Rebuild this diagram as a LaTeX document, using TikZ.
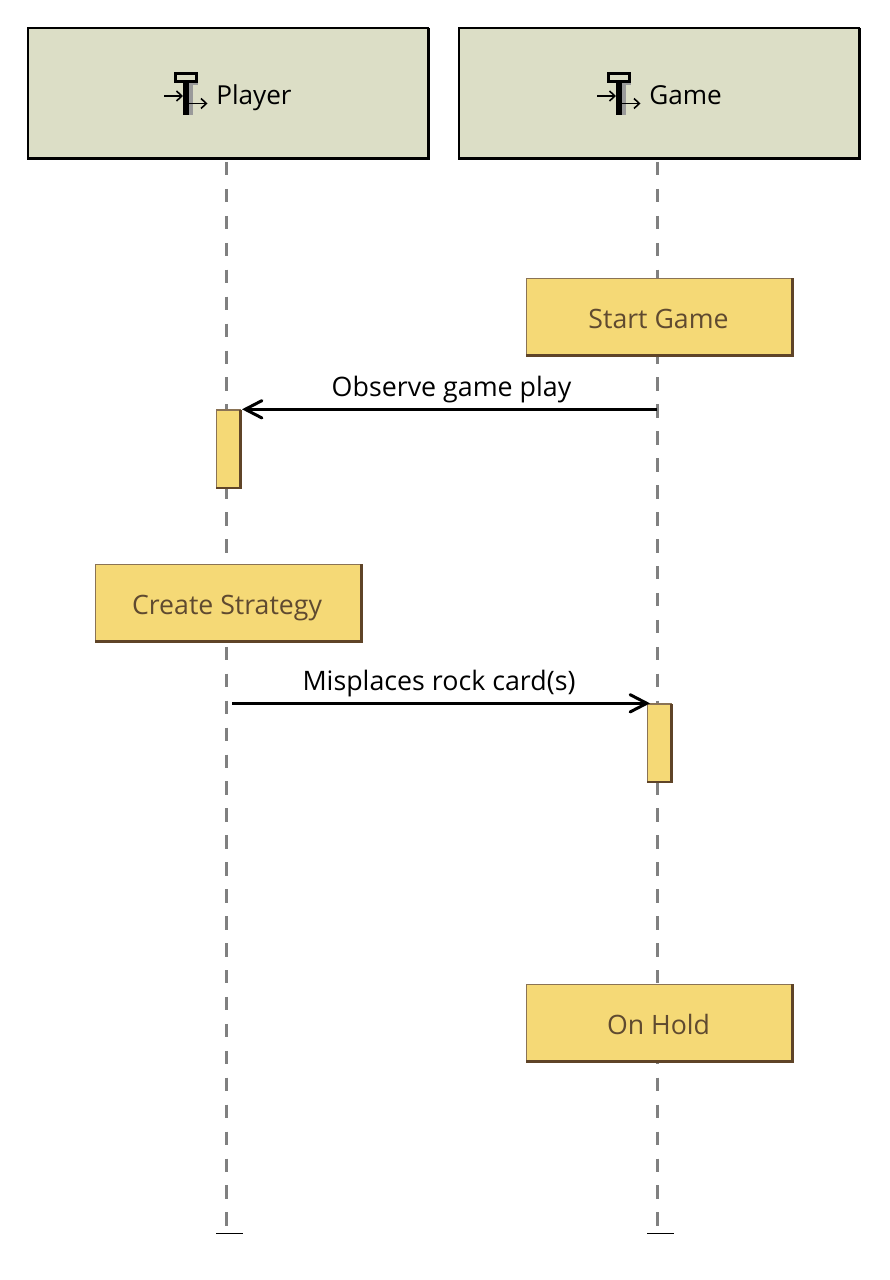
\documentclass[tikz,border=0pt]{standalone}
\usepackage{fontspec}
\setmainfont{Open Sans}
\usetikzlibrary{arrows.meta}
\definecolor{headfill}{HTML}{DCDEC6}
\definecolor{boxfill}{HTML}{F5D976}
\definecolor{boxedge}{HTML}{8A7355}
\definecolor{boxshade}{HTML}{5F4428}
\definecolor{boxtext}{HTML}{5F4A30}
\definecolor{lifegrey}{HTML}{808080}
\definecolor{iconshade}{HTML}{9A9A9A}
\newlength{\pxu}
\setlength{\pxu}{0.75pt}
\tikzset{
  x=0.75pt,y=-0.75pt,
  headbox/.style={draw=black,line width=0.95pt,fill=headfill,rectangle,outer sep=0pt,minimum width=400.5\pxu,minimum height=131\pxu,inner sep=0pt,anchor=north west},
  statebox/.style={draw=boxedge,line width=0.8pt,fill=boxfill,rectangle,outer sep=0pt,minimum width=266.2\pxu,minimum height=77.3\pxu,inner sep=0pt,anchor=north west},
  statetext/.style={text=boxtext,font=\fontsize{20}{24}\selectfont,inner sep=0pt,anchor=base},
  actbox/.style={draw=boxedge,line width=0.8pt,fill=boxfill,rectangle,outer sep=0pt,minimum width=24.3\pxu,minimum height=77.8\pxu,inner sep=0pt,anchor=north west},
  lifeline/.style={draw=lifegrey,line width=2.25pt,dash pattern=on 10.1pt off 10.1pt},
  msg/.style={draw=black,line width=2.25pt,-{Straight Barb[length=12.5pt,width=13pt,line width=2.25pt,line cap=round]}},
  msgtext/.style={font=\fontsize{20.1}{24}\selectfont,text=black,inner sep=0pt,anchor=base},
  headtext/.style={font=\fontsize{19.6}{24}\selectfont,text=black,inner sep=0pt,anchor=base west},
  headshade/.style={draw=black,line width=2.25pt,line join=miter},
  stateshade/.style={draw=boxshade,line width=1.9pt,line join=miter},
  endbar/.style={draw=black,line width=1.4pt},
  iconline/.style={draw=black,line width=1.3pt}
}
\newcommand{\lifeicon}[2]{%
  \begin{scope}[shift={(#1,#2)}]
    \fill[iconshade] (189,82) rectangle (198,85.5);
    \fill[iconshade] (189,85) rectangle (193,115);
    \fill[black] (183.3,82) rectangle (189,115.5);
    \draw[black,line width=1.6pt,fill=headfill] (175.5,73.5) rectangle (196.5,81.5);
    \draw[iconline,-{Straight Barb[length=4pt,width=7.5pt,line width=1.2pt]}] (164,96) -- (183,96);
    \draw[iconline,-{Straight Barb[length=4pt,width=7.5pt,line width=1.2pt]}] (189,103.5) -- (207.5,103.5);
  \end{scope}}
\begin{document}
\begin{tikzpicture}
\useasboundingbox (0,0) rectangle (889,1280);
\fill[white] (0,0) rectangle (889,1280);

% lifelines
\coordinate (ptop) at (226.5,162);
\coordinate (pend) at (226.5,1228);
\coordinate (gtop) at (657.5,162);
\coordinate (gend) at (657.5,1228);
\draw[lifeline] (ptop) -- (pend);
\draw[lifeline] (gtop) -- (gend);
\coordinate (pbarl) at (216,1233.5);
\coordinate (pbarr) at (243,1233.5);
\coordinate (gbarl) at (647,1233.5);
\coordinate (gbarr) at (673.5,1233.5);
\draw[endbar] (pbarl) -- (pbarr);
\draw[endbar] (gbarl) -- (gbarr);

% headers
\node[headbox] (player) at (28,28) {};
\node[headbox] (game) at (459,28) {};
\draw[headshade] (player.north east) -- (player.south east) -- (player.south west);
\draw[headshade] (game.north east) -- (game.south east) -- (game.south west);
\lifeicon{0}{0}
\lifeicon{433}{0}
\node[headtext] (playertext) at (216,105) {Player};
\node[headtext] (gametext) at (649,105) {Game};

% states
\node[statebox] (start) at (526.3,278.2) {};
\draw[stateshade] (start.north east) -- (start.south east) -- (start.south west);
\node[statetext] (starttext) at (658.5,328.3) {Start Game};
\node[statebox] (strategy) at (95.3,564.2) {};
\draw[stateshade] (strategy.north east) -- (strategy.south east) -- (strategy.south west);
\node[statetext] (strategytext) at (227,614.3) {Create Strategy};
\node[statebox] (hold) at (526.3,984.2) {};
\draw[stateshade] (hold.north east) -- (hold.south east) -- (hold.south west);
\node[statetext] (holdtext) at (658.5,1034.3) {On Hold};

% activations
\node[actbox] (pact) at (216.3,410) {};
\draw[stateshade] (pact.north east) -- (pact.south east) -- (pact.south west);
\node[actbox] (gact) at (647.3,704) {};
\draw[stateshade] (gact.north east) -- (gact.south east) -- (gact.south west);

% messages
\coordinate (obsfrom) at (657,409.3);
\coordinate (misfrom) at (232,703.3);
\coordinate (obsto) at (242,409.3);
\coordinate (misto) at (650,703.3);
\draw[msg] (obsfrom) -- (obsto);
\draw[msg] (misfrom) -- (misto);
\node[msgtext] (obstext) at (451.5,396) {Observe game play};
\node[msgtext] (mistext) at (439,690) {Misplaces rock card(s)};
\end{tikzpicture}
\end{document}
